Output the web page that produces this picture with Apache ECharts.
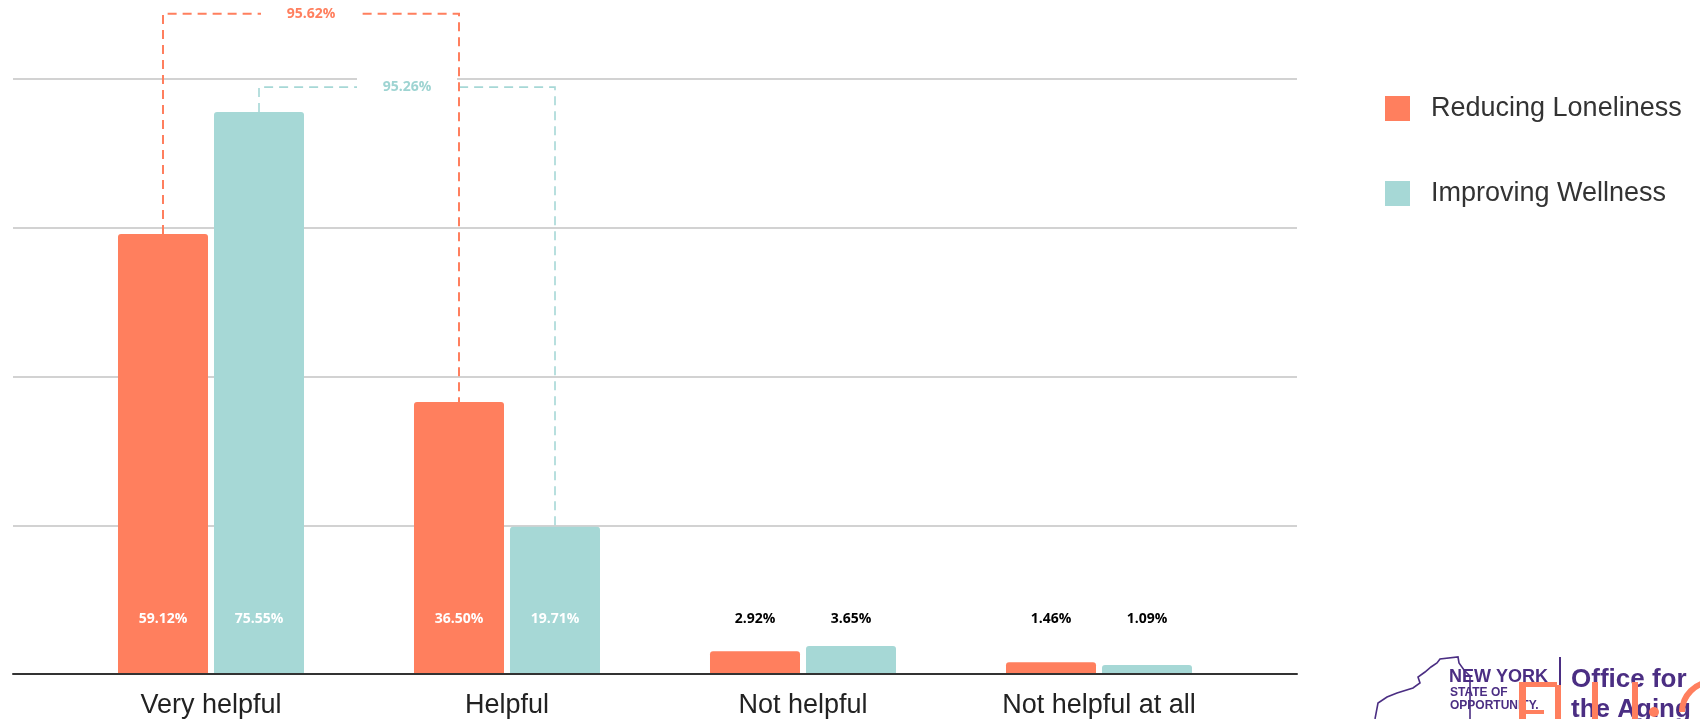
<!DOCTYPE html>
<html>
<head>
<meta charset="utf-8">
<script src="https://cdn.jsdelivr.net/npm/echarts@6/dist/echarts.min.js"></script>
<style>
  html, body { margin: 0; padding: 0; background: #ffffff; }
  #chart { width: 1700px; height: 719px; }
</style>
</head>
<body>
<div id="chart"></div>
<script>
// ---------- data ----------
const categories = ['Very helpful', 'Helpful', 'Not helpful', 'Not helpful at all'];
const seriesNames = ['Reducing Loneliness', 'Improving Wellness'];
const reducingLoneliness = [59.12, 36.50, 2.92, 1.46];
const improvingWellness = [75.55, 19.71, 3.65, 1.09];
const yMin = 0, yMax = 80, yInterval = 20;
// combined "helpful" brackets: [fromCategory, toCategory, bracketLevel(value units), seriesIndex]
const brackets = [
  [0, 1, 78.9, 1],
  [0, 1, 88.8, 0]
];

// ---------- styles ----------
const ORANGE = '#FF7F5E';
const TEAL = '#A6D8D6';
const TEAL_TEXT = '#9ED4D2';
const BAR_W = 90;
const BAR_GAP_PX = 6;
const seriesValues = [reducingLoneliness, improvingWellness];
const seriesColors = [ORANGE, TEAL];
const labelFont = '"Open Sans", "Liberation Sans", sans-serif';

function barData(vals) {
  return vals.map(v => ({
    value: v,
    label: { color: v > 10 ? '#ffffff' : '#000000' }
  }));
}

const chart = echarts.init(document.getElementById('chart'), null, { renderer: 'canvas' });

const option = {
  backgroundColor: '#ffffff',
  animation: false,
  grid: [
    { left: 13, right: 403, top: 79, bottom: 45 },
    { left: 63, right: 453, top: 79, bottom: 45 }
  ],
  legend: {
    data: seriesNames,
    orient: 'vertical',
    left: 1380,
    top: 90,
    itemWidth: 25,
    itemHeight: 25,
    itemGap: 58,
    icon: 'rect',
    textStyle: {
      fontSize: 27,
      color: '#333333',
      fontFamily: '"Liberation Sans", Arial, sans-serif',
      padding: [0, 0, 0, 16]
    }
  },
  xAxis: [
    {
      gridIndex: 0, type: 'value', min: 0, max: 1,
      axisLine: { show: true, onZero: false, lineStyle: { color: '#333333', width: 2 } },
      axisTick: { show: false }, axisLabel: { show: false }, splitLine: { show: false }
    },
    {
      gridIndex: 1, type: 'category', data: categories,
      axisLine: { show: false }, axisTick: { show: false },
      axisLabel: {
        margin: 19,
        fontSize: 27,
        color: '#222222',
        fontFamily: '"Liberation Sans", Arial, sans-serif'
      }
    }
  ],
  yAxis: [
    {
      gridIndex: 0, type: 'value', min: yMin, max: yMax, interval: yInterval,
      axisLine: { show: false }, axisTick: { show: false }, axisLabel: { show: false },
      splitLine: { show: true, lineStyle: { color: '#d2d2d2', width: 2 } }
    },
    {
      gridIndex: 1, type: 'value', min: yMin, max: yMax, interval: yInterval,
      show: false
    }
  ],
  series: [
    {
      name: seriesNames[0], type: 'bar', xAxisIndex: 1, yAxisIndex: 1,
      data: barData(reducingLoneliness),
      barWidth: BAR_W, barGap: (BAR_GAP_PX / BAR_W * 100).toFixed(2) + '%',
      itemStyle: { color: ORANGE, borderRadius: [3, 3, 0, 0] },
      label: {
        show: true, position: 'insideBottom', distance: 47,
        formatter: p => p.value.toFixed(2) + '%',
        fontSize: 14, fontWeight: 'bold', fontFamily: labelFont
      }
    },
    {
      name: seriesNames[1], type: 'bar', xAxisIndex: 1, yAxisIndex: 1,
      data: barData(improvingWellness),
      barWidth: BAR_W,
      itemStyle: { color: TEAL, borderRadius: [3, 3, 0, 0] },
      label: {
        show: true, position: 'insideBottom', distance: 47,
        formatter: p => p.value.toFixed(2) + '%',
        fontSize: 14, fontWeight: 'bold', fontFamily: labelFont
      }
    },
    {
      type: 'custom', xAxisIndex: 1, yAxisIndex: 1, clip: false, z: 5,
      silent: true,
      data: brackets,
      renderItem: function (params, api) {
        const from = api.value(0), to = api.value(1), level = api.value(2), s = api.value(3);
        const vals = seriesValues[s];
        const off = (s === 0 ? -1 : 1) * (BAR_W + BAR_GAP_PX) / 2;
        const xl = api.coord([from, 0])[0] + off;
        const xr = api.coord([to, 0])[0] + off;
        const yL = api.coord([from, vals[from]])[1];
        const yR = api.coord([to, vals[to]])[1];
        const yLev = api.coord([from, level])[1];
        const xm = (xl + xr) / 2;
        const total = vals[from] + vals[to];
        return {
          type: 'group',
          children: [
            {
              type: 'polyline',
              shape: { points: [[xl, yL], [xl, yLev], [xr, yLev], [xr, yR]] },
              style: { stroke: seriesColors[s], lineWidth: s === 0 ? 2 : 1.6, lineDash: [9, 6], fill: 'none' }
            },
            {
              type: 'rect',
              shape: { x: xm - 50, y: yLev - 11, width: 100, height: 22 },
              style: { fill: '#ffffff' }
            },
            {
              type: 'text',
              style: {
                text: total.toFixed(2) + '%',
                x: xm, y: yLev, align: 'center', verticalAlign: 'middle',
                fill: s === 0 ? ORANGE : TEAL_TEXT,
                font: 'bold 14px ' + labelFont
              }
            }
          ]
        };
      }
    }
  ],
  graphic: [
    // logo: state outline
    {
      type: 'polyline', silent: true,
      shape: { points: [[1375, 719], [1378, 703], [1387, 697], [1397, 693], [1413, 688], [1420, 683], [1418, 677], [1425, 672], [1431, 667], [1437, 663], [1440, 659], [1458, 657], [1459, 663], [1464, 670], [1470, 676], [1470, 719]] },
      style: { stroke: '#4B2E83', lineWidth: 1.6, fill: 'none' }
    },
    { type: 'text', left: 1449, top: 668, silent: true,
      style: { text: 'NEW YORK', font: 'bold 18px "Liberation Sans", Arial, sans-serif', fill: '#4B2E83' } },
    { type: 'text', left: 1450, top: 687, silent: true,
      style: { text: 'STATE OF', font: 'bold 12px "Liberation Sans", Arial, sans-serif', fill: '#4B2E83' } },
    { type: 'text', left: 1450, top: 700, silent: true,
      style: { text: 'OPPORTUNITY.', font: 'bold 12px "Liberation Sans", Arial, sans-serif', fill: '#4B2E83' } },
    { type: 'rect', silent: true, shape: { x: 1559, y: 657, width: 2, height: 44 }, style: { fill: '#4B2E83' } },
    { type: 'text', left: 1571, top: 667, silent: true,
      style: { text: 'Office for', font: 'bold 26px "Liberation Sans", Arial, sans-serif', fill: '#4B2E83' } },
    { type: 'text', left: 1571, top: 697, silent: true,
      style: { text: 'the Aging', font: 'bold 26px "Liberation Sans", Arial, sans-serif', fill: '#4B2E83' } },
    // orange overlay fragments
    { type: 'rect', silent: true, shape: { x: 1519, y: 682, width: 7, height: 37 }, style: { fill: ORANGE } },
    { type: 'rect', silent: true, shape: { x: 1519, y: 682, width: 38, height: 5 }, style: { fill: ORANGE } },
    { type: 'rect', silent: true, shape: { x: 1519, y: 710, width: 25, height: 4 }, style: { fill: ORANGE } },
    { type: 'rect', silent: true, shape: { x: 1555, y: 685, width: 6, height: 34 }, style: { fill: ORANGE } },
    { type: 'rect', silent: true, shape: { x: 1592, y: 682, width: 6, height: 37 }, style: { fill: ORANGE } },
    { type: 'rect', silent: true, shape: { x: 1632, y: 682, width: 6, height: 37 }, style: { fill: ORANGE } },
    { type: 'circle', silent: true, shape: { cx: 1654, cy: 712, r: 5 }, style: { fill: ORANGE } },
    { type: 'arc', silent: true, shape: { cx: 1712, cy: 712, r: 30, startAngle: Math.PI, endAngle: Math.PI * 1.5 }, style: { stroke: ORANGE, lineWidth: 6, fill: 'none' } }
  ]
};

chart.setOption(option);
</script>
</body>
</html>
